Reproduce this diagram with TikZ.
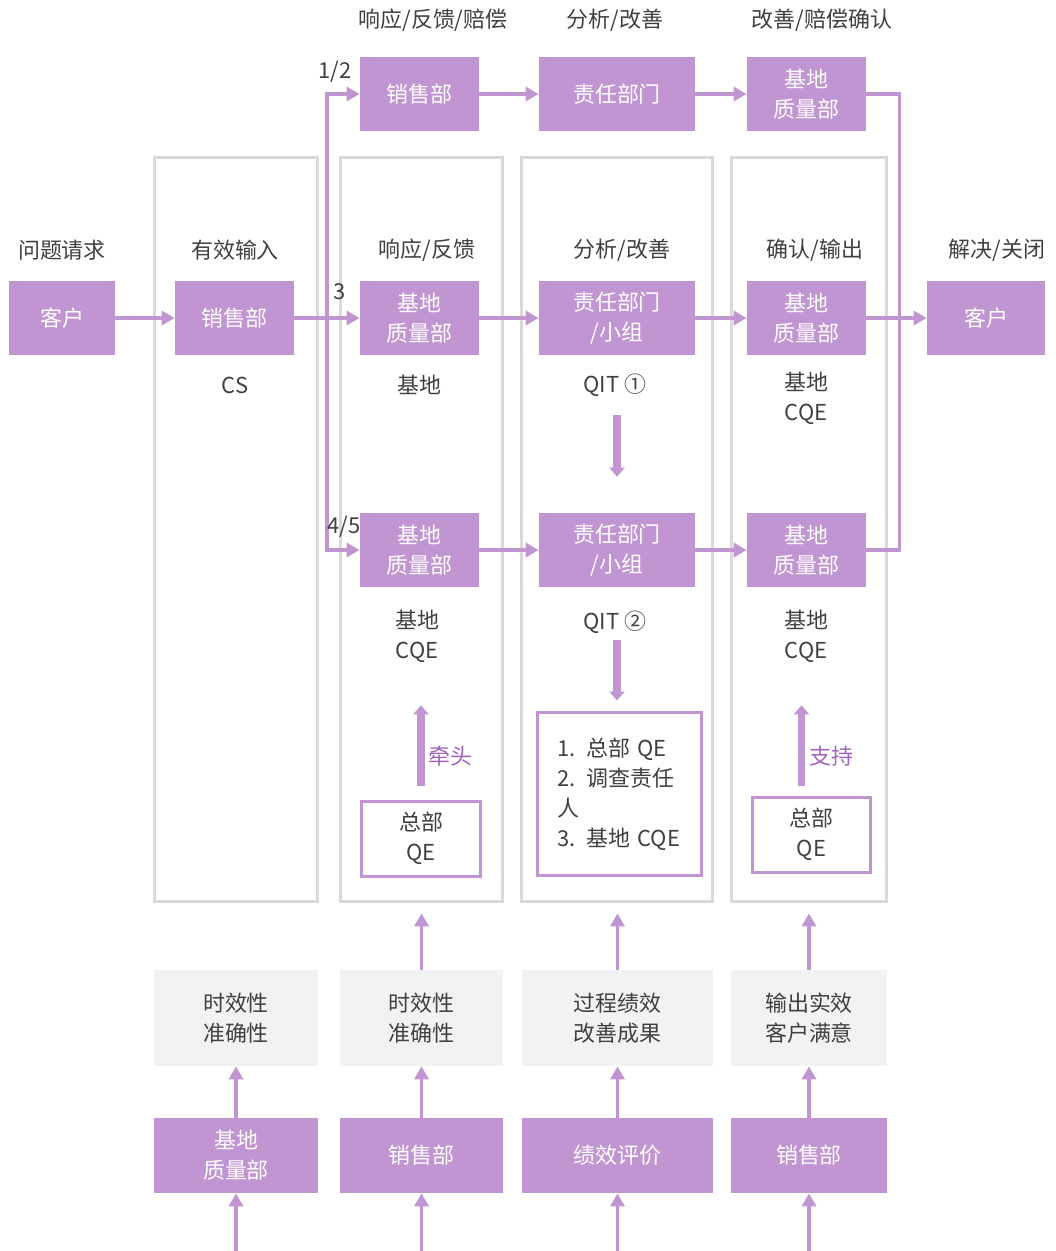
\documentclass[tikz,border=0pt]{standalone}
\usepackage{fontspec}
\setmainfont{Noto Sans CJK SC}
\usepackage{xcolor}
\usepackage{tikz}
\usetikzlibrary{arrows.meta,positioning,calc}

\definecolor{purp}{RGB}{193,149,210}
\definecolor{purptext}{RGB}{160,100,190}
\definecolor{frameg}{RGB}{217,217,217}
\definecolor{metricg}{RGB}{242,242,242}
\definecolor{txt}{RGB}{64,64,64}

\begin{document}
\begin{tikzpicture}[
    x=0.02cm, y=-0.02cm,
    font=\fontsize{12.5}{17}\selectfont,
    text=txt,
    dept/.style={fill=purp, text=white, align=center, inner sep=0pt,
                 minimum width=2.38cm, minimum height=1.48cm},
    lane/.style={draw=frameg, line width=0.06cm, inner sep=0pt,
                 minimum height=14.9cm},
    metric/.style={fill=metricg, align=center, inner sep=0pt,
                   minimum height=1.92cm},
    rater/.style={fill=purp, text=white, align=center, inner sep=0pt,
                  minimum height=1.5cm},
    qebox/.style={draw=purp, line width=0.06cm, fill=white, align=center,
                  inner sep=0pt, minimum width=2.4cm, minimum height=1.5cm},
    lbl/.style={align=center, inner sep=1pt},
    flow/.style={-{Triangle[length=0.26cm,width=0.28cm]}, draw=purp,
                 line width=0.065cm},
    plain/.style={draw=purp, line width=0.065cm},
    bigflow/.style={-{Triangle[length=0.18cm,width=0.3cm]}, draw=purp,
                    line width=0.15cm},
]
\useasboundingbox (0,0) rectangle (1055,1251);

% --- swim lanes (drawn first, behind everything) ---
\node[lane, minimum width=3.28cm] (lane1) at (236,529.5) {};
\node[lane, minimum width=3.26cm] (lane2) at (421.5,529.5) {};
\node[lane, minimum width=3.84cm] (lane3) at (617,529.5) {};
\node[lane, minimum width=3.12cm] (lane4) at (809,529.5) {};

% --- stage headers ---
\node[lbl] (h12a) at (433,20) {响应/反馈/赔偿};
\node[lbl] (h12b) at (615,20) {分析/改善};
\node[lbl] (h12c) at (822,20) {改善/赔偿确认};

\node[lbl] (hreq)  at (62,250)  {问题请求};
\node[lbl] (hin)   at (235,250) {有效输入};
\node[lbl] (hresp) at (427,250) {响应/反馈};
\node[lbl] (hana)  at (622,250) {分析/改善};
\node[lbl] (hconf) at (815,250) {确认/输出};
\node[lbl] (hend)  at (997,250) {解决/关闭};

% --- top row: level 1/2 ---
\node[dept] (salesT) at (419.5,94) {销售部};
\node[dept, minimum width=3.12cm] (respT) at (617,94) {责任部门};
\node[dept] (baseT) at (806.5,94) {基地\\质量部};

% --- middle row: level 3 ---
\node[dept, minimum width=2.12cm] (custL) at (62,318) {客户};
\node[dept] (sales) at (234.5,318) {销售部};
\node[dept] (base1) at (419.5,318) {基地\\质量部};
\node[dept, minimum width=3.12cm] (resp1) at (617,318) {责任部门\\/小组};
\node[dept] (conf1) at (806.5,318) {基地\\质量部};
\node[dept, minimum width=2.36cm] (custR) at (986,318) {客户};

\node[lbl] (cs)    at (235,385)   {CS};
\node[lbl] (own1)  at (419,385)   {基地};
\node[lbl] (qit1)  at (615,385)   {QIT ①};
\node[lbl] (cqe1)  at (806,398.5) {基地\\CQE};

% --- lower row: level 4/5 ---
\node[dept] (base2) at (419.5,550) {基地\\质量部};
\node[dept, minimum width=3.12cm] (resp2) at (617,550) {责任部门\\/小组};
\node[dept] (conf2) at (806.5,550) {基地\\质量部};

\node[lbl] (cqe2)  at (417,636) {基地\\CQE};
\node[lbl] (qit2)  at (615,622) {QIT ②};
\node[lbl] (cqe3)  at (806,636) {基地\\CQE};

% --- headquarter support ---
\node[qebox] (qe2) at (421,838.5) {总部\\QE};
\node[qebox, align=left, minimum width=3.3cm, minimum height=3.28cm,
      text width=2.5cm] (team) at (619.5,794)
  {1. 总部 QE\\2. 调查责任\\人\\3. 基地 CQE};
\node[qebox, minimum width=2.38cm] (qe4) at (811.5,834.5) {总部\\QE};

% --- metrics ---
\node[metric, minimum width=3.28cm] (m1) at (236,1018)   {时效性\\准确性};
\node[metric, minimum width=3.26cm] (m2) at (421.5,1018) {时效性\\准确性};
\node[metric, minimum width=3.82cm] (m3) at (617.5,1018) {过程绩效\\改善成果};
\node[metric, minimum width=3.12cm] (m4) at (809,1018)   {输出实效\\客户满意};

% --- raters ---
\node[rater, minimum width=3.28cm] (b1) at (236,1155.5)   {基地\\质量部};
\node[rater, minimum width=3.26cm] (b2) at (421.5,1155.5) {销售部};
\node[rater, minimum width=3.82cm] (b3) at (617.5,1155.5) {绩效评价};
\node[rater, minimum width=3.12cm] (b4) at (809,1155.5)   {销售部};

% --- main flow ---
\draw[flow] (custL.east) -- (sales.east -| sales.west);
\draw[flow] (sales.east) -- (base1.west);
\draw[flow] (base1.east) -- (resp1.west);
\draw[flow] (resp1.east) -- (conf1.west);
\draw[flow] (conf1.east) -- (custR.west);

\draw[flow] (salesT.east) -- (respT.west);
\draw[flow] (respT.east)  -- (baseT.west);
\draw[flow] (base2.east)  -- (resp2.west);
\draw[flow] (resp2.east)  -- (conf2.west);

% --- escalation split after sales ---
\coordinate (split) at ($(sales.east)!.5!(base1.west)$);
\draw[flow] (split) |- (salesT.west);
\draw[flow] (split) |- (base2.west);
\node[lbl] (lv12) at (335,72)  {1/2};
\node[lbl] (lv3)  at (340,292) {3};
\node[lbl] (lv45) at (344,527) {4/5};

% --- return line on the right ---
\coordinate (join) at ($(conf1.east)!.55!(custR.west)$);
\draw[plain] (baseT.east) -| (join) |- (conf2.east);

% --- thick arrows inside the lanes ---
\draw[bigflow, shorten <=1.2cm, shorten >=0.72cm] (resp1.south) -- (resp2.north);
\draw[bigflow, shorten <=1.06cm, shorten >=0.2cm] (resp2.south) -- (resp2.south |- team.north);
\draw[bigflow, shorten <=0.28cm, shorten >=2.36cm] (qe2.north) -- (qe2.north |- base2.south);
\draw[bigflow, shorten <=0.2cm, shorten >=2.36cm]
  ([xshift=-0.2cm]qe4.north) -- ([xshift=-0.2cm]qe4.north |- conf2.south);
\node[lbl, text=purptext] (lead) at (450,756) {牵头};
\node[lbl, text=purptext] (supp) at (831,756) {支持};

% --- evaluation arrows ---
\coordinate (bottom) at (0,1251);
\foreach \i in {1,...,4}{
  \draw[flow] (b\i.south |- bottom) -- (b\i.south);
  \draw[flow] (b\i.north) -- (m\i.south);
}
\foreach \i in {2,...,4}
  \draw[flow, shorten >=0.2cm] (m\i.north) -- (m\i.north |- lane\i.south);
\end{tikzpicture}
\end{document}
